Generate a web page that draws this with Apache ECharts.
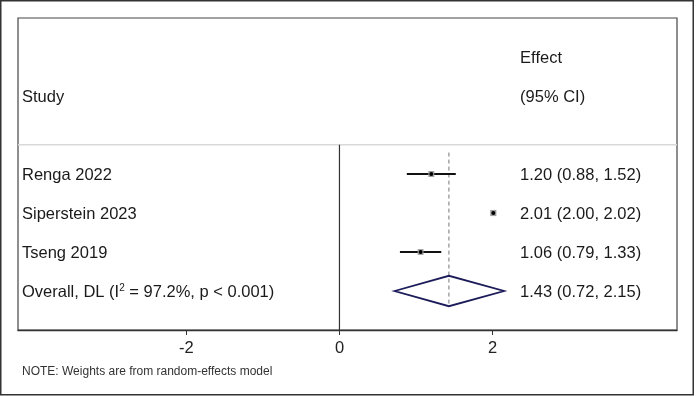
<!DOCTYPE html>
<html><head><meta charset="utf-8">
<script src="https://cdn.jsdelivr.net/npm/echarts@6/dist/echarts.min.js"></script>
<style>html,body{margin:0;padding:0;background:#fff}#c{width:696px;height:396px}</style>
</head><body><div id="c"></div>
<script>
// ---- data ----
const studies = ['Renga 2022', 'Siperstein 2023', 'Tseng 2019'];
const effects = [1.20, 2.01, 1.06];
const lowerCI = [0.88, 2.00, 0.79];
const upperCI = [1.52, 2.02, 1.33];
const weights = [33.2, 34.3, 32.5];
const overallLabel = 'Overall, DL (I{sup|2} = 97.2%, p < 0.001)';
const overallEst = [1.43];
const overallLo = [0.72];
const overallHi = [2.15];
const xTickValues = [-2, 0, 2];
const headerStudy = 'Study';
const headerEffect = ['Effect', '(95% CI)'];
const noteText = 'NOTE: Weights are from random-effects model';

// ---- layout constants ----
const FONT = '"Liberation Sans", Arial, sans-serif';
const FS = 16.5;
const TXT = '#1a1a1a';
const effectColX = 2.36;   // axis units where the effect text column starts

const chart = echarts.init(document.getElementById('c'), null, {renderer: 'canvas'});
const fmt = v => v.toFixed(2);

const rows = studies.map((s, i) => [i + 1, effects[i], lowerCI[i], upperCI[i], weights[i], 0]);
rows.push([studies.length + 1, overallEst[0], overallLo[0], overallHi[0], 0, 1]);

function txt(x, y, s, extra) {
  return {type: 'text', x: x, y: y + 1, style: Object.assign({text: s, font: FS + 'px ' + FONT, fill: TXT, verticalAlign: 'middle'}, extra || {})};
}

function renderRow(params, api) {
  const row = api.value(0), est = api.value(1), lo = api.value(2), hi = api.value(3), w = api.value(4), isOverall = api.value(5);
  const cs = params.coordSys;
  const y = api.coord([0, row])[1];
  const xe = api.coord([est, row])[0];
  const xl = api.coord([lo, row])[0];
  const xh = api.coord([hi, row])[0];
  const xt = api.coord([effectColX, row])[0];
  const children = [];
  const idx = params.dataIndex;
  if (!isOverall) {
    children.push({type: 'line', shape: {x1: xl, y1: y, x2: xh, y2: y}, style: {stroke: '#111', lineWidth: 1.9}});
    const side = w * 0.18;
    children.push({type: 'rect', shape: {x: xe - side / 2, y: y - side / 2, width: side, height: side}, style: {fill: '#a0a0a0'}});
    children.push({type: 'circle', shape: {cx: xe, cy: y, r: 2}, style: {fill: '#000'}});
    children.push(txt(cs.x + 4, y, studies[idx]));
  } else {
    const yTop = api.coord([0, row - 0.39])[1];
    const yBot = api.coord([0, row + 0.39])[1];
    children.push({type: 'polygon', shape: {points: [[xl, y], [xe, yTop], [xh, y], [xe, yBot]]}, style: {fill: 'none', stroke: '#1c1c5a', lineWidth: 1.8}});
    children.push(txt(cs.x + 4, y, overallLabel, {
      rich: {sup: {fontSize: 10, fontFamily: FONT, fill: TXT, padding: [0, 0, 8, 0]}}
    }));
  }
  children.push(txt(xt, y, fmt(est) + ' (' + fmt(lo) + ', ' + fmt(hi) + ')'));
  return {type: 'group', children: children};
}

function renderFrame(params, api) {
  const cs = params.coordSys;
  const ySep = api.coord([0, 0.25])[1];
  const yBottom = cs.y + cs.height;
  const x0 = api.coord([0, 0])[0];
  const xOv = api.coord([overallEst[0], 0])[0];
  const yDashTop = api.coord([0, 0.45])[1];
  const yDashBot = api.coord([0, studies.length + 1 + 0.39])[1];
  const xt = api.coord([effectColX, 0])[0];
  return {type: 'group', children: [
    {type: 'line', shape: {x1: cs.x, y1: ySep, x2: cs.x + cs.width, y2: ySep}, style: {stroke: '#d9d9d9', lineWidth: 1.5}},
    {type: 'line', shape: {x1: x0, y1: ySep, x2: x0, y2: yBottom}, style: {stroke: '#333', lineWidth: 1.2}},
    {type: 'line', shape: {x1: xOv, y1: yDashTop, x2: xOv, y2: yDashBot}, style: {stroke: '#777', lineWidth: 1, lineDash: [4, 3]}},
    txt(cs.x + 4, api.coord([0, -1])[1], headerStudy),
    txt(xt, api.coord([0, -2])[1], headerEffect[0]),
    txt(xt, api.coord([0, -1])[1], headerEffect[1])
  ]};
}

chart.setOption({
  animation: false,
  backgroundColor: '#fff',
  grid: {left: 18, right: 19, top: 18, bottom: 66, show: true, borderColor: '#444', borderWidth: 1.2, backgroundColor: 'transparent'},
  xAxis: {
    type: 'value', min: -4.2, max: 4.41, position: 'bottom',
    splitLine: {show: false},
    axisLine: {show: true, onZero: false, lineStyle: {color: '#333', width: 1.4}},
    axisTick: {show: true, customValues: xTickValues, length: 5, lineStyle: {color: '#333'}},
    axisLabel: {customValues: xTickValues, fontSize: FS, fontFamily: FONT, color: '#222', margin: 10}
  },
  yAxis: {type: 'value', min: -3, max: 5, inverse: true, show: false},
  graphic: [
    {type: 'rect', shape: {x: 0.75, y: 0.75, width: 692.5, height: 394}, style: {fill: 'none', stroke: '#333', lineWidth: 1.5}, silent: true},
    {type: 'text', left: 22, top: 366, style: {text: noteText, font: '12px ' + FONT, fill: '#333'}}
  ],
  series: [
    {type: 'custom', renderItem: renderFrame, data: [[0, 0]], silent: true, z: 1},
    {type: 'custom', renderItem: renderRow, data: rows, silent: true, z: 2}
  ]
});
</script>
</body></html>
